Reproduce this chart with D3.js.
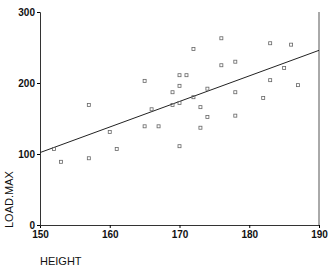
<!DOCTYPE html>
<html>
<head>
<meta charset="utf-8">
<script src="https://cdn.jsdelivr.net/npm/d3@7"></script>
<style>
  body { margin: 0; background: #fff; }
  text { font-family: "Liberation Sans", Arial, sans-serif; }
</style>
</head>
<body>
<div id="chart"></div>
<script>
var width = 329,
    height = 266;

// HEIGHT vs LOAD.MAX
var heightVals = [152, 153, 157, 157, 160, 161, 165, 165, 166, 167,
                  169, 169, 170, 170, 170, 171, 170, 172, 172, 173,
                  173, 174, 174, 176, 176, 178, 178, 178, 182, 183,
                  183, 185, 186, 187];
var loadVals = [107, 89, 169, 94, 131, 107, 203, 139, 163, 139,
                169, 187, 172, 196, 211, 211, 111, 248, 180, 166,
                137, 192, 152, 263, 225, 230, 187, 154, 179, 256,
                204, 221, 254, 197];

// fitted line, end points
var fitX = [150, 190];
var fitY = [102, 246];

var xTicks = [150, 160, 170, 180, 190];
var yTicks = [0, 100, 200, 300];

var svg = d3.select("#chart")
    .append("svg")
    .attr("width", width)
    .attr("height", height);

var x = d3.scaleLinear().domain([150, 190]).range([40, 319]);
var y = d3.scaleLinear().domain([0, 300]).range([225, 12]);

// axes
svg.append("g")
    .attr("transform", "translate(0,225)")
    .call(d3.axisBottom(x).tickValues(xTicks).tickSize(3).tickPadding(3))
    .call(function(g) {
      g.select(".domain").attr("stroke", "#333");
      g.selectAll("text").style("font-size", "10px").style("font-weight", "bold")
        .attr("fill", "#111");
    });

svg.append("g")
    .attr("transform", "translate(40,0)")
    .call(d3.axisLeft(y).tickValues(yTicks).tickSize(3).tickPadding(2))
    .call(function(g) {
      g.select(".domain").attr("stroke", "#333");
      g.selectAll("text").style("font-size", "10px").style("font-weight", "bold")
        .attr("fill", "#111");
    });

// right frame line
svg.append("line")
    .attr("x1", x(190)).attr("x2", x(190))
    .attr("y1", y(300)).attr("y2", y(0))
    .attr("stroke", "#555")
    .attr("stroke-width", 1);

// fit line
svg.append("line")
    .attr("x1", x(fitX[0])).attr("y1", y(fitY[0]))
    .attr("x2", x(fitX[1])).attr("y2", y(fitY[1]))
    .attr("stroke", "#222")
    .attr("stroke-width", 1);

// points
svg.selectAll(".pt")
    .data(heightVals)
    .enter().append("rect")
    .attr("class", "pt")
    .attr("x", function(d) { return x(d) - 1.5; })
    .attr("y", function(d, i) { return y(loadVals[i]) - 1.5; })
    .attr("width", 3)
    .attr("height", 3)
    .attr("fill", "none")
    .attr("stroke", "#666")
    .attr("stroke-width", 0.8);

// axis titles
svg.append("text")
    .attr("x", 40)
    .attr("y", 265)
    .style("font-size", "11px")
    .attr("fill", "#111")
    .text("HEIGHT");

svg.append("text")
    .attr("transform", "translate(13,228) rotate(-90)")
    .style("font-size", "11px")
    .attr("fill", "#111")
    .text("LOAD.MAX");
</script>
</body>
</html>
